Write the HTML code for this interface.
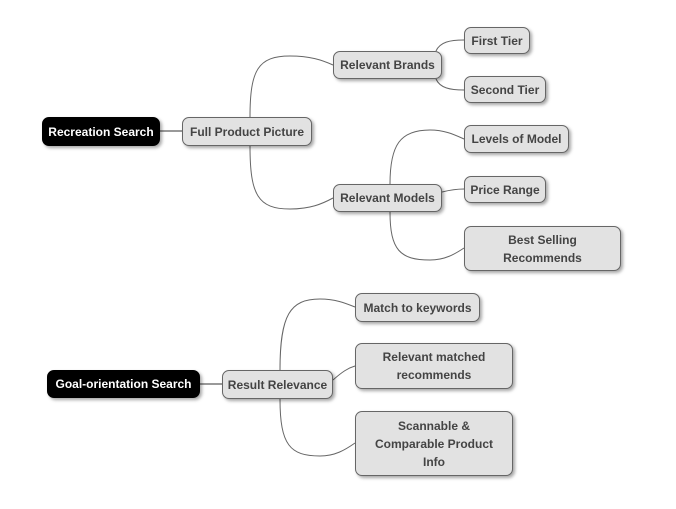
<!DOCTYPE html>
<html><head><meta charset="utf-8"><style>
body{margin:0;width:676px;height:509px;background:#fff;position:relative;overflow:hidden;font-family:"Liberation Sans",sans-serif;}
.n{position:absolute;box-sizing:border-box;background:#e2e2e2;border:1px solid #666;border-radius:7px;color:#444;font-weight:bold;font-size:12px;display:flex;align-items:center;justify-content:center;text-align:center;line-height:18px;box-shadow:2px 2px 3px rgba(0,0,0,.35);}
.r{background:#000;color:#fff;border-color:#000;}
svg{position:absolute;left:0;top:0;}
</style></head><body>
<svg width="676" height="509" fill="none" stroke="#666" stroke-width="1">
<line x1="160" y1="131" x2="182" y2="131" stroke="#999" stroke-width="2"/>
<line x1="200" y1="384" x2="222" y2="384" stroke="#999" stroke-width="2"/>
<path d="M250,117 C250,70 258,56 290,56 C310,56 322,60 333,65"/>
<path d="M250,146 C250,195 258,209 290,209 C310,209 322,204 333,198"/>
<path d="M436,51 C440,42 450,40 464,40"/>
<path d="M436,79 C440,88 450,90 464,90"/>
<path d="M390,184 C390,145 400,130 430,130 C445,130 455,135 464,139"/>
<path d="M442,192 C450,190 456,189 464,189"/>
<path d="M390,212 C390,250 400,260 430,260 C445,260 455,254 464,248"/>
<path d="M280,370 C280,315 290,299 320,299 C335,299 345,303 355,307"/>
<path d="M333,380 C342,372 348,368 355,366"/>
<path d="M280,399 C280,445 290,456 320,456 C335,456 345,450 355,443"/>
</svg>
<div class="n r" style="left:42px;top:117px;width:118px;height:29px">Recreation Search</div>
<div class="n" style="left:182px;top:117px;width:130px;height:29px">Full Product Picture</div>
<div class="n" style="left:333px;top:51px;width:109px;height:28px">Relevant Brands</div>
<div class="n" style="left:464px;top:27px;width:66px;height:27px">First Tier</div>
<div class="n" style="left:464px;top:76px;width:82px;height:27px">Second Tier</div>
<div class="n" style="left:333px;top:184px;width:109px;height:28px">Relevant Models</div>
<div class="n" style="left:464px;top:125px;width:105px;height:28px">Levels of Model</div>
<div class="n" style="left:464px;top:176px;width:82px;height:27px">Price Range</div>
<div class="n" style="left:464px;top:226px;width:157px;height:45px">Best Selling<br>Recommends</div>
<div class="n r" style="left:47px;top:370px;width:153px;height:28px">Goal-orientation Search</div>
<div class="n" style="left:222px;top:370px;width:111px;height:29px">Result Relevance</div>
<div class="n" style="left:355px;top:293px;width:125px;height:29px">Match to keywords</div>
<div class="n" style="left:355px;top:343px;width:158px;height:46px">Relevant matched<br>recommends</div>
<div class="n" style="left:355px;top:411px;width:158px;height:65px">Scannable &amp;<br>Comparable Product<br>Info</div>
</body></html>
